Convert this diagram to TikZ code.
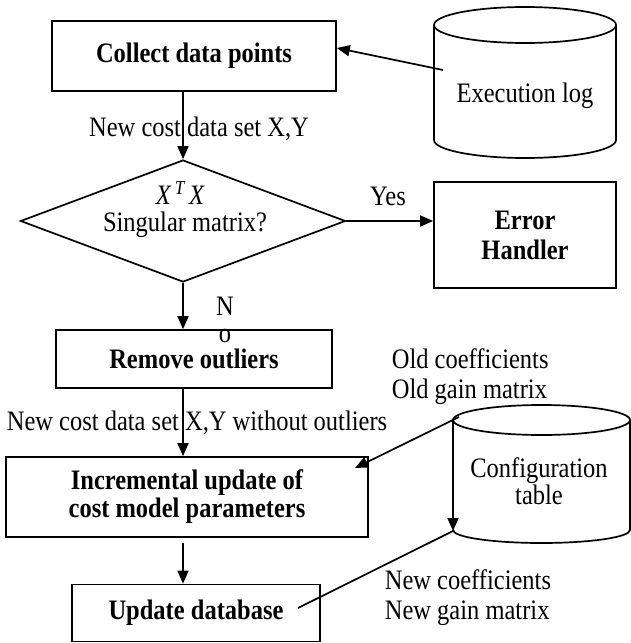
\documentclass[tikz,border=0pt]{standalone}
\usepackage{graphicx}
\usepackage{fontspec}
\setmainfont{Liberation Serif}
\usetikzlibrary{arrows.meta,shapes.geometric,calc}

% slightly tall lettering
\newcommand\tallt[1]{\scalebox{1}[1.15]{#1}}

\begin{document}
\begin{tikzpicture}[x=1pt,y=-1pt,line width=1.7pt,
  box/.style={draw,rectangle,inner sep=0pt,align=center,
    font=\fontsize{24.5}{30}\selectfont\bfseries},
  txt/.style={inner sep=0pt,align=left,font=\fontsize{24.5}{30}\selectfont},
  arr/.style={-{Triangle[length=13pt,width=11pt]}}]
\useasboundingbox (0,0) rectangle (631,643);

% process boxes
\node[box,minimum width=284pt,minimum height=70pt] (collect) at (194,56) {\tallt{Collect data points}};
\node[diamond,draw,minimum width=325pt,minimum height=122pt,inner sep=0pt] (dec) at (183,221) {};
\node[txt] (xtx) at (180,193) {\tallt{\itshape X\,\textsuperscript{T}\,X}};
\node[txt] (sing) at (185,225) {\tallt{Singular matrix?}};
\node[box,minimum width=182pt,minimum height=106pt] (err) at (525,235) {\tallt{Error}\\\tallt{Handler}};
\node[box,minimum width=276pt,minimum height=58pt] (remove) at (194,359) {\tallt{Remove outliers}};
\node[box,minimum width=362pt,minimum height=80pt] (inc) at (187,497) {\tallt{Incremental update of}\\[-2pt]\tallt{cost model parameters}};
\node[box,minimum width=248pt,minimum height=57pt] (upd) at (196,613) {\tallt{Update database}};

% execution log store
\draw (525,25) ellipse [x radius=91,y radius=18];
\draw (434,25) -- (434,140) arc[start angle=180,end angle=0,x radius=91,y radius=18] -- (616,25);
\node[txt] (exlog) at (525,96) {\tallt{Execution log}};
\coordinate (exout) at (443,70);

% configuration table store
\draw (541.5,420) ellipse [x radius=88.5,y radius=15];
\draw (453,530) arc[start angle=180,end angle=0,x radius=88.5,y radius=13] -- (630,420);
\node[txt,align=center] (cfg) at (539,481) {\tallt{Configuration}\\[-3pt]\tallt{table}};
\coordinate (cfgTL) at (453,420);
\coordinate (cfgBL) at (453,531);
\coordinate (cfgout) at (459,417);
\coordinate (updout) at (298,608);

% labels
\node[txt] (lbl1) at (199,129) {\tallt{New cost data set X,Y}};
\node[txt] (yes) at (388,196) {\tallt{Yes}};
\node[txt] (no1) at (225,306) {\tallt{N}};
\node[txt] (no2) at (225,336) {\tallt{o}};
\node[txt,anchor=west] (oldc) at (391,377) {\tallt{Old coefficients}\\\tallt{Old gain matrix}};
\node[txt] (lbl2) at (197,423) {\tallt{New cost data set X,Y without outliers}};
\node[txt,anchor=west] (newc) at (384,598) {\tallt{New coefficients}\\\tallt{New gain matrix}};

% connectors
\draw[arr] (exout) -- ([yshift=8pt]collect.east);
\draw[arr] (dec.north |- collect.south) -- (dec.north);
\draw[arr] (dec.east) -- (dec.east -| err.west);
\draw[arr] (dec.south) -- (dec.south |- remove.north);
\draw[arr] (dec.south |- remove.south) -- (dec.south |- inc.north);
\draw[arr] ([yshift=-5pt]dec.south |- inc.south) -- (dec.south |- upd.north);
\draw[arr] (cfgout) -- (355,468);
\draw[arr] (cfgTL) -- (cfgBL);
\draw (updout) -- (cfgBL);
\end{tikzpicture}
\end{document}
